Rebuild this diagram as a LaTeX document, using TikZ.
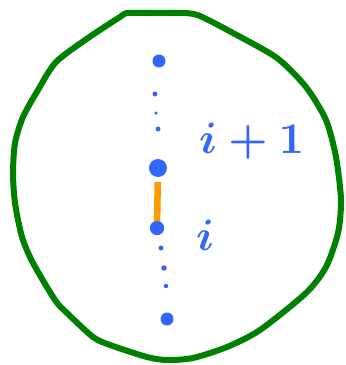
\documentclass[tikz,border=0pt]{standalone}
\usepackage{tikz}
\usepackage{graphicx}
\definecolor{penblue}{RGB}{51,102,255}
\definecolor{loopgreen}{RGB}{0,128,0}
\definecolor{linkorange}{RGB}{255,153,0}
\tikzset{
  dot/.style={circle, fill=penblue, draw=none, inner sep=0pt, minimum size=#1},
  lbl/.style={text=penblue, inner sep=0pt},
}
\begin{document}
\begin{tikzpicture}[x=1pt,y=-1pt]
\useasboundingbox (0,0) rectangle (346,365);
% green hand-drawn loop
\draw[draw=loopgreen, line width=6pt, line join=round]
  plot[smooth cycle, tension=0.45] coordinates {
  (128,13) (160,13) (185,13) (200,16) (233,33) (277,58) (306,87) (326,120)
  (336,157) (341,200) (338,233) (326,267) (306,293) (260,330) (227,347)
  (193,358) (167,360) (147,357) (110,345) (93,337) (67,313) (55,300)
  (33,263) (22,237) (15,203) (13,173) (15,143) (23,117) (38,90) (56,62) (88,38) (120,17)};
% dots
\node[dot=13pt] (top) at (159,61) {};
\node[dot=5pt] (u1) at (155,94) {};
\node[dot=3.5pt] (u2) at (156,113) {};
\node[dot=5pt] (u3) at (158,129) {};
\node[dot=18pt] (a) at (158,168) {};
\node[dot=14pt] (b) at (157,228) {};
\node[dot=5pt] (l1) at (161,248) {};
\node[dot=5.5pt] (l2) at (164,268) {};
\node[dot=4.5pt] (l3) at (166,286) {};
\node[dot=13pt] (bot) at (167,319) {};
% orange link (drawn under the lower dot)
\draw[draw=linkorange, line width=6.5pt, shorten <=5pt, shorten >=-2pt] (a) -- (b);
\node[dot=14pt] (b2) at (b) {};
% labels
\node[lbl, anchor=base west] (lab1) at (199,153) {\scalebox{4.4}{\boldmath$i+1$}};
\node[lbl, anchor=base west] (lab2) at (196,250) {\scalebox{4.4}{\boldmath$i$}};
\end{tikzpicture}
\end{document}
